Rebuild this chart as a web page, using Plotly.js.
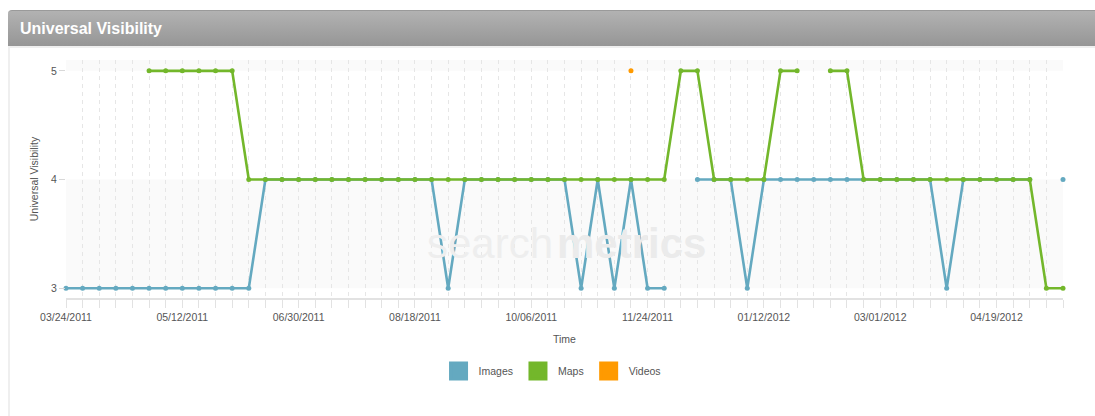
<!DOCTYPE html>
<html>
<head>
<meta charset="utf-8">
<script src="https://cdn.plot.ly/plotly-3.0.1.min.js"></script>
<style>
  html, body { margin: 0; padding: 0; background: #ffffff; }
  #wrap { position: relative; width: 1095px; height: 416px; overflow: hidden; }
  #hdr { position: absolute; left: 8px; top: 10px; width: 1090px; height: 36px;
         background: linear-gradient(#b2b2b2, #969696); border-top: 1px solid #9a9a9a;
         border-top-left-radius: 4px; box-sizing: border-box; }
  #hdrline { position: absolute; left: 8px; top: 46px; width: 1090px; height: 2px; background: #efefef; }
  #panel { position: absolute; left: 8px; top: 46px; width: 2px; height: 380px; background: #efefef; }
  #chart { position: absolute; left: 0; top: 0; width: 1095px; height: 416px; }
</style>
</head>
<body>
<div id="wrap">
  <div id="hdr"></div>
  <div id="hdrline"></div>
  <div id="panel"></div>
  <div id="chart"></div>
</div>
<script>
// Weekly dates
const dates = [
  '2011-03-24','2011-03-31','2011-04-07','2011-04-14','2011-04-21','2011-04-28','2011-05-05','2011-05-12',
  '2011-05-19','2011-05-26','2011-06-02','2011-06-09','2011-06-16','2011-06-23','2011-06-30','2011-07-07',
  '2011-07-14','2011-07-21','2011-07-28','2011-08-04','2011-08-11','2011-08-18','2011-08-25','2011-09-01',
  '2011-09-08','2011-09-15','2011-09-22','2011-09-29','2011-10-06','2011-10-13','2011-10-20','2011-10-27',
  '2011-11-03','2011-11-10','2011-11-17','2011-11-24','2011-12-01','2011-12-08','2011-12-15','2011-12-22',
  '2011-12-29','2012-01-05','2012-01-12','2012-01-19','2012-01-26','2012-02-02','2012-02-09','2012-02-16',
  '2012-02-23','2012-03-01','2012-03-08','2012-03-15','2012-03-22','2012-03-29','2012-04-05','2012-04-12',
  '2012-04-19','2012-04-26','2012-05-03','2012-05-10','2012-05-17'
];

const images = [
  3,3,3,3,3,3,3,3,3,3,3,3,
  4,4,4,4,4,4,4,4,4,4,4,
  3,
  4,4,4,4,4,4,4,
  3,4,3,4,3,3,
  null,
  4,4,4,
  3,
  4,4,4,4,4,4,4,4,4,4,4,
  3,
  4,4,4,4,4,
  null,
  4
];

const maps = [
  null,null,null,null,null,
  5,5,5,5,5,5,
  4,4,4,4,4,4,4,4,4,4,4,4,4,4,4,4,4,4,4,4,4,4,4,4,4,4,
  5,5,
  4,4,4,4,
  5,5,
  null,
  5,5,
  4,4,4,4,4,4,4,4,4,4,4,
  3,3
];

const videos = [
  null,null,null,null,null,null,null,null,null,null,null,null,null,null,null,null,null,
  null,null,null,null,null,null,null,null,null,null,null,null,null,null,null,null,null,
  5,
  null,null,null,null,null,null,null,null,null,null,null,null,null,null,null,null,null,
  null,null,null,null,null,null,null,null,null,null
];

const seriesNames = ['Images', 'Maps', 'Videos'];
const seriesColors = ['#64a9c0', '#73b72b', '#ff9a00'];
const yTicks = [3, 4, 5];
const xStart = '2011-03-24';
const xEnd = '2012-05-17';

const FONT = 'Liberation Sans, Arial, Helvetica, sans-serif';
const DAY = 86400000;

const allSeries = [images, maps, videos];
const traces = [];
allSeries.forEach((vals, k) => {
  traces.push({
    type: 'scatter', mode: 'lines+markers', name: seriesNames[k],
    x: dates, y: vals, connectgaps: false, showlegend: false,
    legendgroup: seriesNames[k], cliponaxis: false,
    line: { color: seriesColors[k], width: 2.6 },
    marker: { color: seriesColors[k], size: 5 }
  });
});
// legend entries (square swatches)
seriesNames.forEach((n, k) => {
  traces.push({
    type: 'scatter', mode: 'markers', name: n, x: [null], y: [null],
    legendgroup: n, showlegend: true,
    marker: { color: seriesColors[k], symbol: 'square', size: 16,
              line: { color: seriesColors[k], width: 3 } }
  });
});

const layout = {
  width: 1095, height: 416,
  margin: { l: 66, r: 32, t: 60, b: 118 },
  paper_bgcolor: 'rgba(0,0,0,0)',
  plot_bgcolor: '#ffffff',
  font: { family: FONT, color: '#555555', size: 10.5 },
  title: {
    text: 'Universal Visibility',
    x: 20 / 1095, xref: 'container', xanchor: 'left',
    y: 1 - 28 / 416, yref: 'container', yanchor: 'middle',
    font: { family: FONT, size: 16, color: '#ffffff', weight: 'bold' }
  },
  xaxis: {
    type: 'date',
    range: [xStart, xEnd],
    tick0: xStart, dtick: 49 * DAY,
    tickformat: '%m/%d/%Y',
    ticks: 'outside', ticklen: 8, tickcolor: '#e2e2e2', tickwidth: 1,
    showgrid: true, gridcolor: '#e6e6e6', griddash: '4px,4px', gridwidth: 1,
    minor: { tick0: xStart, dtick: 7 * DAY, ticks: 'outside', ticklen: 8, tickcolor: '#e2e2e2',
             showgrid: true, gridcolor: '#e6e6e6', griddash: '4px,4px', gridwidth: 1 },
    showline: true, linecolor: '#e2e2e2', linewidth: 2,
    zeroline: false,
    tickfont: { size: 10.5, color: '#555555' },
    title: { text: 'Time', font: { size: 10.5, color: '#555555' }, standoff: 14 },
    fixedrange: true
  },
  yaxis: {
    range: [2.91, 5.10],
    tickvals: yTicks,
    ticktext: yTicks.map(String),
    ticks: 'outside', ticklen: 6, tickcolor: '#d8d8d8',
    showgrid: false, zeroline: false, showline: false,
    tickfont: { size: 10.5, color: '#555555' },
    title: { text: 'Universal Visibility', font: { size: 10.5, color: '#555555' }, standoff: 10 },
    fixedrange: true
  },
  shapes: [
    { type: 'rect', xref: 'paper', yref: 'y', x0: 0, x1: 1, y0: 3, y1: 4,
      fillcolor: '#fafafa', line: { width: 0 }, layer: 'below' },
    { type: 'rect', xref: 'paper', yref: 'y', x0: 0, x1: 1, y0: 5, y1: 5.10,
      fillcolor: '#fafafa', line: { width: 0 }, layer: 'below' }
  ],
  annotations: [
    { xref: 'paper', yref: 'paper', x: 0.4905, y: 0.23, xanchor: 'right', yanchor: 'middle',
      showarrow: false, text: 'search',
      font: { family: FONT, size: 42, color: '#eeeeee' } },
    { xref: 'paper', yref: 'paper', x: 0.4905, y: 0.23, xanchor: 'left', yanchor: 'middle',
      showarrow: false, text: '<b>metrics</b>',
      font: { family: FONT, size: 42, color: '#ebebeb' } }
  ],
  showlegend: true,
  legend: {
    orientation: 'h', x: 0.488, xanchor: 'center', y: -0.307, yanchor: 'middle',
    font: { size: 10.5, color: '#555555' }, bgcolor: 'rgba(0,0,0,0)'
  },
  hovermode: false
};

Plotly.newPlot('chart', traces, layout, { displayModeBar: false, staticPlot: true });
</script>
</body>
</html>
